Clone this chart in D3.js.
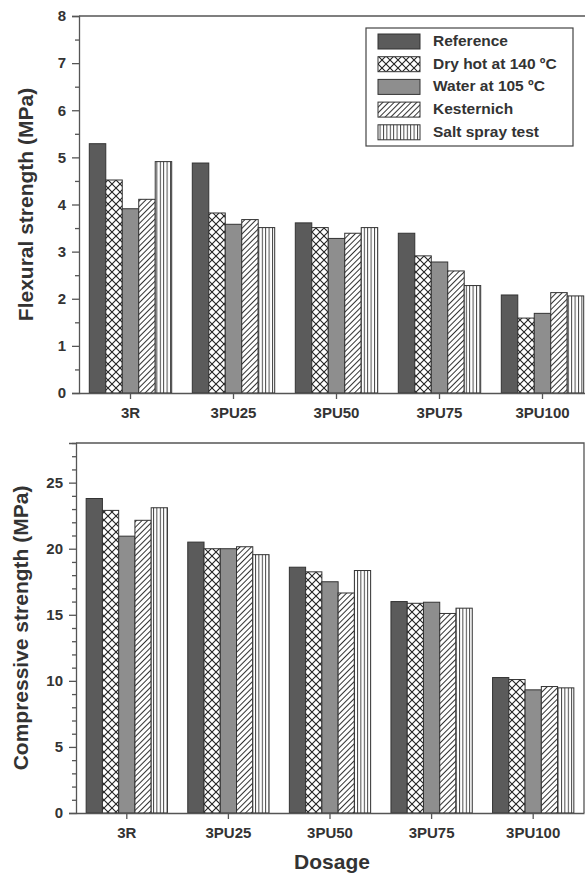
<!DOCTYPE html>
<html>
<head>
<meta charset="utf-8">
<script src="https://cdn.jsdelivr.net/npm/d3@7"></script>
<style>
  body { margin:0; background:#fff; }
  svg { display:block; font-family:"Liberation Sans", Arial, sans-serif; }
  .tick text { font-weight:bold; fill:#333; }
</style>
</head>
<body>
<div id="chart"></div>
<script>
let categories = ["3R","3PU25","3PU50","3PU75","3PU100"];
let seriesNames = ["Reference","Dry hot at 140 ºC","Water at 105 ºC","Kesternich","Salt spray test"];

let flexReference  = [5.29, 4.88, 3.61, 3.39, 2.08];
let flexDryHot     = [4.52, 3.82, 3.51, 2.91, 1.59];
let flexWater      = [3.91, 3.58, 3.28, 2.78, 1.69];
let flexKesternich = [4.11, 3.68, 3.39, 2.59, 2.13];
let flexSalt       = [4.91, 3.51, 3.51, 2.28, 2.06];

let compReference  = [23.8, 20.5, 18.6, 16.0, 10.25];
let compDryHot     = [22.9, 20.0, 18.25, 15.87, 10.1];
let compWater      = [20.95, 20.0, 17.5, 15.95, 9.32];
let compKesternich = [22.15, 20.15, 16.65, 15.1, 9.57];
let compSalt       = [23.1, 19.55, 18.35, 15.5, 9.47];

let flexTicks = [0,1,2,3,4,5,6,7,8];
let compTicks = [0,5,10,15,20,25];

let width = 585, height = 875;
let svg = d3.select("#chart").append("svg").attr("width",width).attr("height",height);
let defs = svg.append("defs");

// fills: solid greys + hatch patterns
let cross = defs.append("pattern").attr("id","cross").attr("patternUnits","userSpaceOnUse")
  .attr("width",8).attr("height",8);
cross.append("rect").attr("width",8).attr("height",8).attr("fill","#fff");
cross.append("path").attr("d","M0,0L8,8M8,0L0,8").attr("stroke","#222").attr("stroke-width",1.1);

let hatch = defs.append("pattern").attr("id","hatch").attr("patternUnits","userSpaceOnUse")
  .attr("width",4).attr("height",4).attr("patternTransform","rotate(45)");
hatch.append("rect").attr("width",4).attr("height",4).attr("fill","#fff");
hatch.append("line").attr("x1",0.5).attr("x2",0.5).attr("y1",0).attr("y2",4).attr("stroke","#333").attr("stroke-width",1);

let vert = defs.append("pattern").attr("id","vert").attr("patternUnits","userSpaceOnUse")
  .attr("width",3.4).attr("height",4);
vert.append("rect").attr("width",3.4).attr("height",4).attr("fill","#fff");
vert.append("line").attr("x1",0.5).attr("x2",0.5).attr("y1",0).attr("y2",4).attr("stroke","#333").attr("stroke-width",0.9);

let fills = ["#5b5b5b","url(#cross)","#8e8e8e","url(#hatch)","url(#vert)"];

function panel(opts){
  let {left,right,top,bottom,max,ticks,minor,series,label,labelX} = opts;
  let x = d3.scaleBand().domain(categories).range([left,right]).paddingInner(0.2).paddingOuter(0.1);
  let xs = d3.scaleBand().domain(seriesNames).range([0,x.bandwidth()]);
  let y = d3.scaleLinear().domain([0,max]).range([bottom,top]);

  let g = svg.append("g");

  // frame (top + right)
  g.append("path").attr("d",`M${left},${top}H${right}V${bottom}`)
    .attr("fill","none").attr("stroke","#555").attr("stroke-width",1.3);

  categories.forEach((c,i)=>{
    series.forEach((vals,j)=>{
      g.append("rect")
        .attr("x",x(c)+xs(seriesNames[j]))
        .attr("y",y(vals[i]))
        .attr("width",xs.bandwidth())
        .attr("height",y(0)-y(vals[i]))
        .attr("fill",fills[j])
        .attr("stroke","#333").attr("stroke-width",1);
    });
  });

  let yAxis = g.append("g").attr("transform",`translate(${left},0)`)
    .call(d3.axisLeft(y).tickValues(ticks).tickSize(7).tickPadding(6));
  yAxis.selectAll("text").attr("font-size",15);
  let yMinor = g.append("g").attr("transform",`translate(${left},0)`)
    .call(d3.axisLeft(y).tickValues(minor).tickSize(4).tickFormat(""));
  yMinor.select(".domain").remove();

  let xAxis = g.append("g").attr("transform",`translate(0,${bottom})`)
    .call(d3.axisBottom(x).tickSize(6).tickPadding(8).tickSizeOuter(0));
  xAxis.selectAll("text").attr("font-size",15);
  [yAxis,yMinor,xAxis].forEach(a=>{
    a.selectAll("path,line").attr("stroke","#555").attr("stroke-width",1.3);
  });

  g.append("text").attr("transform",`translate(${labelX},${(top+bottom)/2}) rotate(-90)`)
    .attr("text-anchor","middle").attr("dominant-baseline","middle")
    .attr("font-size",21).attr("font-weight","bold").attr("fill","#333").text(label);
  return g;
}

panel({left:79,right:594,top:16,bottom:393,max:8,ticks:flexTicks,
  minor:d3.range(0.5,8,1),
  series:[flexReference,flexDryHot,flexWater,flexKesternich,flexSalt],
  label:"Flexural strength (MPa)",labelX:27});

panel({left:76,right:584,top:443,bottom:813,max:28,ticks:compTicks,
  minor:d3.range(1,29).filter(v=>v%5!==0),
  series:[compReference,compDryHot,compWater,compKesternich,compSalt],
  label:"Compressive strength (MPa)",labelX:22});

svg.append("text").attr("x",332).attr("y",869).attr("text-anchor","middle")
  .attr("font-size",21).attr("font-weight","bold").attr("fill","#333").text("Dosage");

// legend
let lg = svg.append("g").attr("transform","translate(366,28)");
lg.append("rect").attr("width",207).attr("height",118).attr("fill","#fff")
  .attr("stroke","#444").attr("stroke-width",1.2);
seriesNames.forEach((s,i)=>{
  lg.append("rect").attr("x",12).attr("y",6+i*22.7).attr("width",42).attr("height",15)
    .attr("fill",fills[i]).attr("stroke","#333").attr("stroke-width",1);
  lg.append("text").attr("x",67).attr("y",14+i*22.7).attr("dominant-baseline","middle")
    .attr("font-size",15.5).attr("font-weight","bold").attr("fill","#333").text(s);
});
</script>
</body>
</html>
